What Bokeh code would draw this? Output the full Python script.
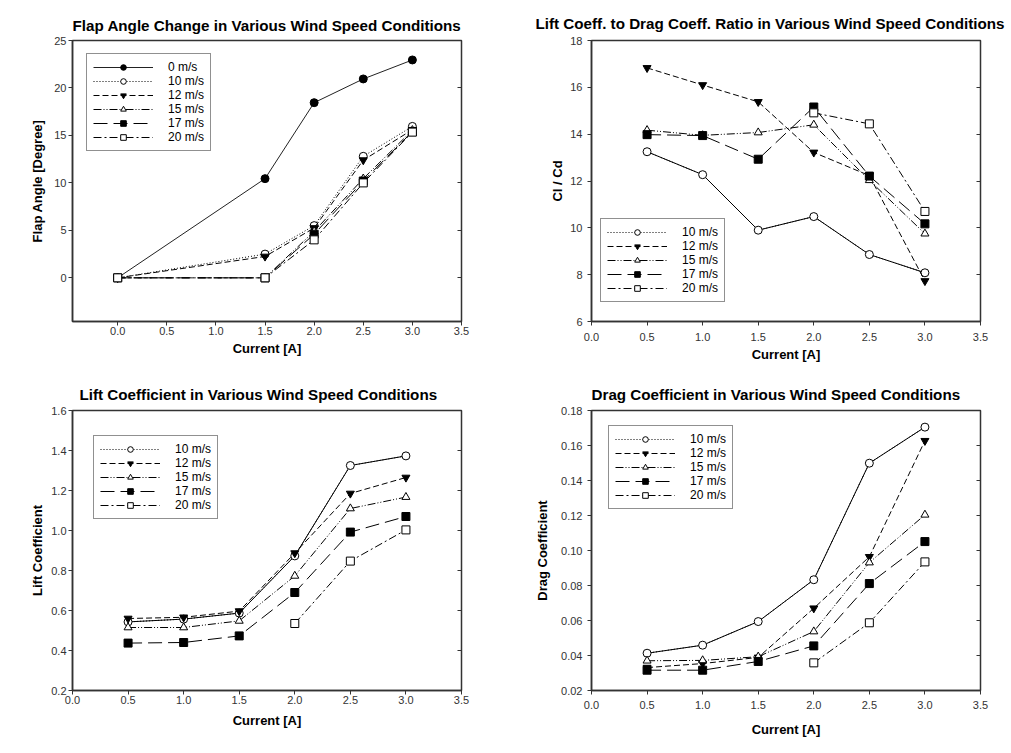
from bokeh.plotting import figure
from bokeh.layouts import column, row
from bokeh.models import (Legend, LegendItem, LinearAxis, FixedTicker, NumeralTickFormatter,
                          CustomJSTickFormatter, Range1d)
from bokeh.embed import file_html
from bokeh.resources import INLINE

# ---------------- data ----------------
speeds = ["0 m/s", "10 m/s", "12 m/s", "15 m/s", "17 m/s", "20 m/s"]

current_flap = [0.0, 1.5, 2.0, 2.5, 3.0]
flap_0 = [0.0, 10.45, 18.45, 20.95, 22.95]
flap_10 = [0.0, 2.5, 5.5, 12.8, 15.95]
flap_12 = [0.0, 2.25, 5.25, 12.4, 15.6]
flap_15 = [0.0, 0.0, 4.9, 10.45, 15.55]
flap_17 = [0.0, 0.0, 4.6, 10.2, 15.4]
flap_20 = [0.0, 0.0, 4.0, 10.0, 15.35]

current = [0.5, 1.0, 1.5, 2.0, 2.5, 3.0]
current_20 = [2.0, 2.5, 3.0]

ratio_10 = [13.25, 12.27, 9.9, 10.48, 8.86, 8.08]
ratio_12 = [16.83, 16.1, 15.38, 13.22, 12.23, 7.73]
ratio_15 = [14.17, 13.95, 14.07, 14.4, 12.03, 9.75]
ratio_17 = [13.98, 13.94, 12.93, 15.16, 12.21, 10.17]
ratio_20 = [14.91, 14.44, 10.7]

lift_10 = [0.543, 0.557, 0.587, 0.873, 1.325, 1.373]
lift_12 = [0.56, 0.566, 0.597, 0.887, 1.185, 1.265]
lift_15 = [0.515, 0.515, 0.548, 0.773, 1.11, 1.167]
lift_17 = [0.437, 0.44, 0.473, 0.69, 0.992, 1.07]
lift_20 = [0.535, 0.847, 1.003]

drag_10 = [0.0413, 0.0459, 0.0594, 0.0833, 0.1499, 0.1705]
drag_12 = [0.0331, 0.0354, 0.0389, 0.067, 0.0964, 0.1627]
drag_15 = [0.037, 0.0372, 0.0393, 0.0537, 0.0931, 0.1204]
drag_17 = [0.0316, 0.0316, 0.0366, 0.0455, 0.0811, 0.1051]
drag_20 = [0.0358, 0.0587, 0.0935]

x_ticks = [0.0, 0.5, 1.0, 1.5, 2.0, 2.5, 3.0, 3.5]

# ---------------- styles ----------------
FONT = "Liberation Sans"
STYLE = {
    "0 m/s": dict(marker="circle", fill="black", dash="solid"),
    "10 m/s": dict(marker="circle", fill="white", dash="1 2"),
    "12 m/s": dict(marker="inverted_triangle", fill="black", dash="6 3"),
    "15 m/s": dict(marker="triangle", fill="white", dash="8 2 1 2 1 2"),
    "17 m/s": dict(marker="square", fill="black", dash="14 6"),
    "20 m/s": dict(marker="square", fill="white", dash="8 3 2 3"),
}


def make_fig(width, height, borders, title, title_offset, title_standoff,
             x_range, y_range, y_ticks, y_fmt, y_label,
             x_lab_standoff, x_axlab_standoff, y_lab_standoff, y_axlab_standoff):
    left, right, top, bottom = borders
    p = figure(width=width, height=height, output_backend="svg", toolbar_location=None,
               x_range=Range1d(*x_range), y_range=Range1d(*y_range),
               min_border_left=left, min_border_right=right,
               min_border_top=top, min_border_bottom=bottom, title=title)
    p.title.align = "left"
    p.title.offset = title_offset
    p.title.standoff = title_standoff
    p.title.text_font = FONT
    p.title.text_font_size = "15.2px"
    p.title.text_font_style = "bold"
    p.title.text_color = "black"
    p.xgrid.visible = False
    p.ygrid.visible = False
    p.outline_line_color = "#333333"
    p.outline_line_width = 1.5
    p.background_fill_color = "white"
    p.border_fill_color = "white"

    xa = p.xaxis[0]
    xa.ticker = FixedTicker(ticks=x_ticks)
    xa.formatter = NumeralTickFormatter(format="0.0")
    xa.axis_label = "Current [A]"
    ya = p.yaxis[0]
    ya.ticker = FixedTicker(ticks=y_ticks)
    ya.formatter = NumeralTickFormatter(format=y_fmt)
    ya.axis_label = y_label
    for ax, ls, als in ((xa, x_lab_standoff, x_axlab_standoff), (ya, y_lab_standoff, y_axlab_standoff)):
        ax.axis_line_color = "#333333"
        ax.axis_line_width = 1.5
        ax.major_tick_out = 4
        ax.major_tick_in = 0
        ax.major_tick_line_color = "#333333"
        ax.minor_tick_line_color = None
        ax.major_label_text_font = FONT
        ax.major_label_text_font_size = "11px"
        ax.major_label_text_color = "#333333"
        ax.major_label_standoff = ls
        ax.axis_label_text_font = FONT
        ax.axis_label_text_font_size = "13px"
        ax.axis_label_text_font_style = "bold"
        ax.axis_label_text_color = "black"
        ax.axis_label_standoff = als
    ra = LinearAxis(ticker=FixedTicker(ticks=y_ticks), major_tick_in=4, major_tick_out=0,
                    major_tick_line_color="#333333", minor_tick_line_color=None,
                    axis_line_color=None, major_label_standoff=0,
                    formatter=CustomJSTickFormatter(code="return ''"))
    p.add_layout(ra, "right")
    return p


def add_series(p, name, x, y, data_dash=None, line_color="black"):
    st = STYLE[name]
    # line drawn with the legend style (shown in the legend)
    ln = p.line(x, y, line_color=line_color, line_width=1, line_dash=st["dash"])
    if data_dash is not None:
        # the data line as it appears in the plot, drawn on top of the legend-style line
        p.line(x, y, line_color=line_color, line_width=1, line_dash=data_dash)
    sc = p.scatter(x, y, marker=st["marker"], size=8, fill_color=st["fill"],
                   line_color="black", line_width=1)
    return LegendItem(label=name, renderers=[ln, sc])


def add_legend(p, items, loc):
    lg = Legend(items=items, location=loc, glyph_width=60, glyph_height=14, spacing=0,
                padding=6, margin=0, label_standoff=15, label_width=36, label_height=14,
                label_text_font=FONT, label_text_font_size="12px", label_text_color="black",
                border_line_color="#222222", border_line_width=1.5,
                background_fill_color="white", background_fill_alpha=1.0)
    p.add_layout(lg, "center")


# frames: row 1 -> top 40, bottom 321 ; row 2 -> top 410, bottom 690
# ---------------- panel 1 ----------------
p1 = make_fig(508, 372, (72, 47, 40, 51), "Flap Angle Change in Various Wind Speed Conditions", 0, 14,
              (-0.46, 3.5), (-4.6, 25), [0, 5, 10, 15, 20, 25], "0", "Flap Angle [Degree]",
              1, 3, 2, 6)
items1 = [
    add_series(p1, "0 m/s", current_flap, flap_0, line_color="#222222"),
    add_series(p1, "10 m/s", current_flap, flap_10),
    add_series(p1, "12 m/s", current_flap, flap_12),
    add_series(p1, "15 m/s", current_flap, flap_15),
    add_series(p1, "17 m/s", current_flap, flap_17),
    add_series(p1, "20 m/s", current_flap, flap_20),
]
add_legend(p1, items1, (14, 170))

# ---------------- panel 2 ----------------
p2 = make_fig(502, 372, (83, 30, 40, 51), "Lift Coeff. to Drag Coeff. Ratio in Various Wind Speed Conditions",
              -56, 18, (0, 3.5), (6, 18), [6, 8, 10, 12, 14, 16, 18], "0", "Cl / Cd",
              7, 3, 5, 2)
items2 = [
    add_series(p2, "10 m/s", current, ratio_10, data_dash="solid"),
    add_series(p2, "12 m/s", current, ratio_12),
    add_series(p2, "15 m/s", current, ratio_15),
    add_series(p2, "17 m/s", current, ratio_17),
    add_series(p2, "20 m/s", current_20, ratio_20),
]
add_legend(p2, items2, (9, 19))

# ---------------- panel 3 ----------------
p3 = make_fig(508, 380, (72, 47, 38, 62), "Lift Coefficient in Various Wind Speed Conditions", 7, 16,
              (0, 3.5), (0.2, 1.6), [0.2, 0.4, 0.6, 0.8, 1.0, 1.2, 1.4, 1.6], "0.0", "Lift Coefficient",
              1, 6, 2, 3)
items3 = [
    add_series(p3, "10 m/s", current, lift_10, data_dash="solid"),
    add_series(p3, "12 m/s", current, lift_12),
    add_series(p3, "15 m/s", current, lift_15),
    add_series(p3, "17 m/s", current, lift_17),
    add_series(p3, "20 m/s", current_20, lift_20),
]
add_legend(p3, items3, (21, 171))

# ---------------- panel 4 ----------------
p4 = make_fig(502, 380, (83, 30, 38, 62), "Drag Coefficient in Various Wind Speed Conditions", 0, 16,
              (0, 3.5), (0.02, 0.18), [0.02, 0.04, 0.06, 0.08, 0.10, 0.12, 0.14, 0.16, 0.18], "0.00",
              "Drag Coefficient", 6, 10, 5, 8)
items4 = [
    add_series(p4, "10 m/s", current, drag_10, data_dash="solid"),
    add_series(p4, "12 m/s", current, drag_12),
    add_series(p4, "15 m/s", current, drag_15),
    add_series(p4, "17 m/s", current, drag_17),
    add_series(p4, "20 m/s", current_20, drag_20),
]
add_legend(p4, items4, (17, 181))

layout = column(row(p1, p2, spacing=0), row(p3, p4, spacing=0), spacing=0)
open("out.html", "w").write(file_html(layout, INLINE))
